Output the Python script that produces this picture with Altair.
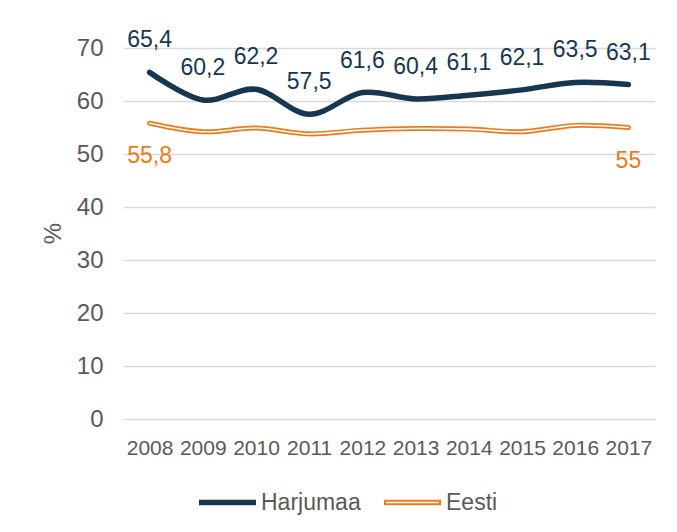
import altair as alt
import pandas as pd

years = ["2008", "2009", "2010", "2011", "2012", "2013", "2014", "2015", "2016", "2017"]
harjumaa = [65.4, 60.2, 62.2, 57.5, 61.6, 60.4, 61.1, 62.1, 63.5, 63.1]
eesti = [55.8, 54.2, 54.9, 53.8, 54.5, 54.8, 54.7, 54.2, 55.4, 55.0]
eesti_labelled = ["2008", "2017"]
series = ["Harjumaa", "Eesti"]
series_colors = ["#17364f", "#ec7a1c"]
y_ticks = [0, 10, 20, 30, 40, 50, 60, 70]

FONT = "Liberation Sans"
GRAY = "#595959"
SYMBOL = "M-1,-0.065L1,-0.065L1,0.065L-1,0.065Z"


def fmt(v):
    s = f"{v:.1f}"
    if s.endswith(".0"):
        s = s[:-2]
    return s.replace(".", ",")


rows = []
for y, h, e in zip(years, harjumaa, eesti):
    rows.append({"year": y, "series": "Harjumaa", "value": h, "label": fmt(h), "show": 1})
    rows.append({"year": y, "series": "Eesti", "value": e, "label": fmt(e),
                 "show": 1 if y in eesti_labelled else 0})
df = pd.DataFrame(rows)

x_enc = alt.X(
    "year:O",
    sort=years,
    scale=alt.Scale(type="point", padding=0.5),
    axis=alt.Axis(
        title=None, labelAngle=0, labelFontSize=21, labelColor=GRAY, labelFont=FONT,
        domain=False, ticks=False, grid=False, labelPadding=18,
    ),
)
y_enc = alt.Y(
    "value:Q",
    scale=alt.Scale(domain=[0, 70], nice=False, zero=True),
    axis=alt.Axis(
        title="%", values=y_ticks, labelFontSize=24, labelColor=GRAY, labelFont=FONT,
        domain=False, ticks=False, grid=True, gridColor="#d9d9d9", gridWidth=1.3,
        labelPadding=20, titleFontSize=24, titleFont=FONT, titleColor=GRAY,
        titleFontWeight="normal", titleX=-70, titleY=185, titleBaseline="middle",
    ),
)


def make_legend(x, fill):
    return alt.Legend(
        title=None,
        orient="none",
        direction="horizontal",
        legendX=x,
        legendY=426,
        symbolType=SYMBOL,
        symbolSize=3025,
        symbolStrokeWidth=2,
        symbolFillColor=fill,
        labelFontSize=23,
        labelColor=GRAY,
        labelFont=FONT,
        labelOffset=5,
    )


base = alt.Chart(df).encode(x=x_enc, y=y_enc)

harj_line = base.transform_filter(alt.datum.series == "Harjumaa").mark_line(
    interpolate="cardinal", strokeWidth=5.5, strokeCap="round"
).encode(
    color=alt.Color(
        "series:N",
        scale=alt.Scale(domain=[series[0]], range=[series_colors[0]]),
        legend=make_legend(76, series_colors[0]),
    )
)

eesti_outer = base.transform_filter(alt.datum.series == "Eesti").mark_line(
    interpolate="cardinal", strokeWidth=5, strokeCap="round"
).encode(
    stroke=alt.Stroke(
        "series:N",
        scale=alt.Scale(domain=[series[1]], range=[series_colors[1]]),
        legend=make_legend(261, "#ffffff"),
    )
)

eesti_inner = base.transform_filter(alt.datum.series == "Eesti").mark_line(
    interpolate="cardinal", strokeWidth=1.6, strokeCap="round", color="#ffffff"
)

harj_labels = base.transform_filter(alt.datum.series == "Harjumaa").mark_text(
    fontSize=23, font=FONT, color=series_colors[0], baseline="middle", dy=-32
).encode(text="label:N")

eesti_labels = base.transform_filter(
    "datum.series === 'Eesti' && datum.show === 1"
).mark_text(
    fontSize=23, font=FONT, color=series_colors[1], baseline="middle", dy=33
).encode(text="label:N")

chart = alt.layer(harj_line, eesti_outer, eesti_inner, harj_labels, eesti_labels).properties(
    width=532,
    height=371,
    padding={"left": 115, "top": 40, "right": 14, "bottom": 100},
    autosize=alt.AutoSizeParams(type="none"),
    background="#ffffff",
).configure_view(stroke=None)

chart.save("out.html", embed_options={"renderer": "svg", "actions": False})
